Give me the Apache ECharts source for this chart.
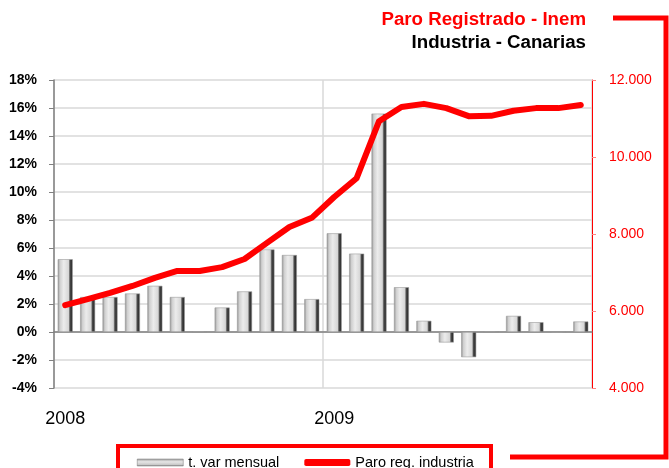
<!DOCTYPE html>
<html>
<head>
<meta charset="utf-8">
<script src="https://cdn.jsdelivr.net/npm/echarts@6/dist/echarts.min.js"></script>
<style>
  html, body { margin: 0; padding: 0; background: #fff; }
  #chart { width: 669px; height: 468px; }
</style>
</head>
<body>
<div id="chart"></div>
<script>
// meses ene-2008 .. dic-2009
const months = [
  'ene-08', 'feb-08', 'mar-08', 'abr-08', 'may-08', 'jun-08', 'jul-08', 'ago-08', 'sep-08', 'oct-08', 'nov-08', 'dic-08',
  'ene-09', 'feb-09', 'mar-09', 'abr-09', 'may-09', 'jun-09', 'jul-09', 'ago-09', 'sep-09', 'oct-09', 'nov-09', 'dic-09'
]
const yearLabels = { 'ene-08': '2008', 'ene-09': '2009' }

// tasa de variacion mensual (%)
const varMensual = [
  5.2, 2.5, 2.5, 2.75, 3.3, 2.5, 0.05, 1.75, 2.9, 5.9, 5.5, 2.35,
  7.05, 5.6, 15.6, 3.2, 0.8, -0.75, -1.8, 0.05, 1.15, 0.7, -0.05, 0.75
]

// paro registrado industria
const paroIndustria = [
  6150, 6310, 6470, 6650, 6860, 7040, 7040, 7140, 7350, 7770, 8180, 8420,
  8960, 9450, 10930, 11300, 11380, 11270, 11060, 11070, 11200, 11270, 11270, 11350
]

const barGradient = new echarts.graphic.LinearGradient(0, 0, 1, 0, [
  { offset: 0, color: '#8c8c8c' },
  { offset: 0.15, color: '#cfcfcf' },
  { offset: 0.4, color: '#ececec' },
  { offset: 0.72, color: '#d6d6d6' },
  { offset: 0.82, color: '#4a4a4a' },
  { offset: 1, color: '#1e1e1e' }
])

// el icono de leyenda es un cilindro horizontal
const legendGradient = new echarts.graphic.LinearGradient(0, 0, 0, 1, [
  { offset: 0, color: '#9a9a9a' },
  { offset: 0.4, color: '#e6e6e6' },
  { offset: 0.8, color: '#c8c8c8' },
  { offset: 1, color: '#7a7a7a' }
])

const myChart = echarts.init(document.getElementById('chart'))

myChart.setOption({
  animation: false,
  backgroundColor: '#fff',
  textStyle: { fontFamily: 'Liberation Sans, Arial, sans-serif' },
  title: [
    {
      text: 'Paro Registrado - Inem',
      right: 83, top: 10, padding: 0,
      textStyle: { color: '#ff0000', fontSize: 18.7, fontWeight: 'bold' }
    },
    {
      text: 'Industria - Canarias',
      right: 83, top: 33, padding: 0,
      textStyle: { color: '#000', fontSize: 18.7, fontWeight: 'bold' }
    }
  ],
  grid: { left: 54, right: 77, top: 80, bottom: 80 },
  legend: {
    left: 137, top: 455, padding: 0,
    itemGap: 25, itemWidth: 46, itemHeight: 7,
    textStyle: { fontSize: 14.5, color: '#000' },
    data: [
      { name: 't. var mensual', icon: 'rect', itemStyle: { color: legendGradient, borderColor: '#777', borderWidth: 0.5 } },
      { name: 'Paro reg. industria', icon: 'roundRect', itemStyle: { color: '#ff0000' } }
    ]
  },
  xAxis: {
    type: 'category',
    data: months,
    axisLine: { lineStyle: { color: '#808080', width: 1.5 } },
    axisTick: { interval: 11, length: 5, lineStyle: { color: '#808080' } },
    axisLabel: {
      interval: 11, margin: 22, fontSize: 18, color: '#000',
      formatter: v => yearLabels[v] || ''
    },
    splitLine: { show: true, interval: 11, lineStyle: { color: '#d9d9d9', width: 1.5 } }
  },
  yAxis: [
    {
      type: 'value',
      min: -4, max: 18, interval: 2,
      axisLine: { show: true, lineStyle: { color: '#808080', width: 1.5 } },
      axisTick: { show: true, length: 5, lineStyle: { color: '#808080' } },
      axisLabel: { formatter: '{value}%', fontSize: 14, fontWeight: 'bold', color: '#000', margin: 17 },
      splitLine: { lineStyle: { color: '#d9d9d9', width: 1.5 } }
    },
    {
      type: 'value',
      min: 4000, max: 12000, interval: 2000,
      axisLine: { show: true, lineStyle: { color: '#ff0000', width: 1 } },
      axisTick: { show: true, inside: false, length: 4, lineStyle: { color: '#ff8080' } },
      axisLabel: {
        fontSize: 14, color: '#ff0000', margin: 17,
        formatter: v => v.toLocaleString('de-DE', { minimumFractionDigits: 0 }).replace(',', '.')
      },
      splitLine: { show: false }
    }
  ],
  series: [
    {
      name: 't. var mensual',
      type: 'bar',
      data: varMensual,
      barWidth: 15,
      itemStyle: { color: barGradient, borderColor: '#9a9a9a', borderWidth: 0.6 }
    },
    {
      name: 'Paro reg. industria',
      type: 'line',
      yAxisIndex: 1,
      data: paroIndustria,
      symbol: 'none',
      lineStyle: { color: '#ff0000', width: 6, cap: 'round', join: 'round' },
      itemStyle: { color: '#ff0000' }
    }
  ],
  graphic: [
    {
      type: 'polyline',
      shape: { points: [[613, 18], [666, 18], [666, 457], [510, 457]] },
      style: { stroke: '#ff0000', lineWidth: 5, fill: null }
    },
    {
      type: 'rect',
      shape: { x: 118, y: 446, width: 373, height: 40 },
      style: { stroke: '#ff0000', lineWidth: 4, fill: null }
    }
  ]
})
</script>
</body>
</html>
